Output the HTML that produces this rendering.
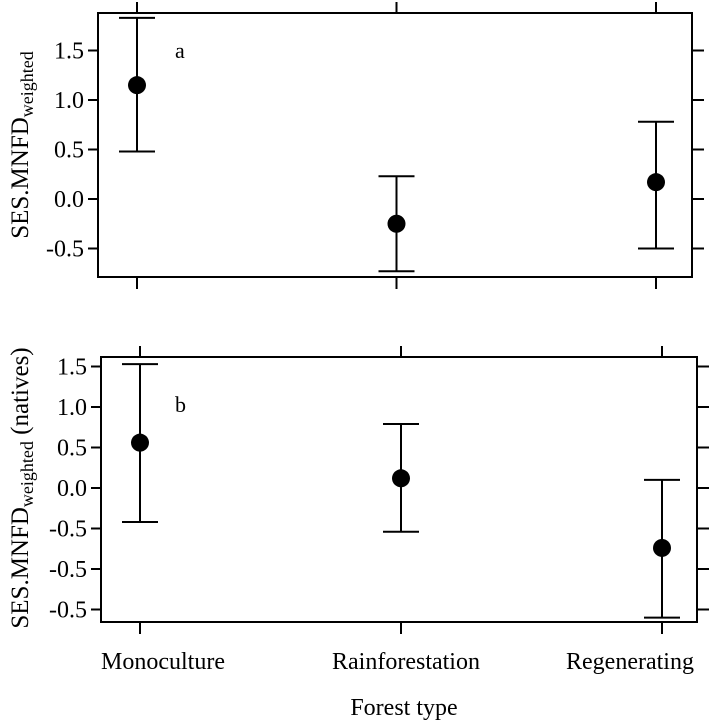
<!DOCTYPE html>
<html><head><meta charset="utf-8"><style>
html,body{margin:0;padding:0;background:#fff;}
svg{display:block;font-family:"Liberation Serif",serif;}
</style></head><body>
<svg width="709" height="722" viewBox="0 0 709 722" xmlns="http://www.w3.org/2000/svg" id="chart"></svg>
<script>
const categories = ["Monoculture","Rainforestation","Regenerating"];
const meanA = [1.15,-0.25,0.17];
const upperA = [1.83,0.23,0.78];
const lowerA = [0.48,-0.73,-0.5];
const meanB = [0.56,0.12,-0.74];
const upperB = [1.53,0.79,0.10];
const lowerB = [-0.42,-0.54,-1.6];
const tickValsA = [1.5,1.0,0.5,0.0,-0.5];
const tickLabelsA = ["1.5","1.0","0.5","0.0","-0.5"];
const tickValsB = [1.5,1.0,0.5,0.0,-0.5,-1.0,-1.5];
const tickLabelsB = ["1.5","1.0","0.5","0.0","-0.5","-0.5","-0.5"];

const svg=document.getElementById('chart');
const NS='http://www.w3.org/2000/svg';
function mk(tag,attrs,parent){const e=document.createElementNS(NS,tag);for(const k in attrs)e.setAttribute(k,attrs[k]);(parent||svg).appendChild(e);return e;}
const labelX=[163,406,630];

function panel(cfg){
  const g=mk('g',{});
  
  
  const y=v=>cfg.y0-v*cfg.ppu;
  const x=i=>cfg.left+39+i*cfg.step;
  const box=mk('rect',{x:cfg.left,y:cfg.top,width:cfg.right-cfg.left,height:cfg.bottom-cfg.top,fill:'none',stroke:'#000','stroke-width':2},g);
  
  
  cfg.ticks.forEach((v,i)=>{
    const yy=y(v);
    const t=mk('line',{x1:cfg.left-10,x2:cfg.left,y1:yy,y2:yy,stroke:'#000','stroke-width':2},g);
    
    
    const t2=mk('line',{x1:cfg.right,x2:cfg.right+12,y1:yy,y2:yy,stroke:'#000','stroke-width':2},g);
    
    
    const lb=mk('text',{x:cfg.left-14,y:yy+8,'text-anchor':'end',style:'font-size:24px'},g);
    lb.textContent=cfg.labels[i];
    
    
  });
  categories.forEach((c,i)=>{
    const xx=x(i);
    const a=mk('line',{x1:xx,x2:xx,y1:cfg.top-11,y2:cfg.top,stroke:'#000','stroke-width':2},g);
    
    
    const b=mk('line',{x1:xx,x2:xx,y1:cfg.bottom,y2:cfg.bottom+12,stroke:'#000','stroke-width':2},g);
    
    
    const eg=mk('g',{},g);
    
    
    mk('line',{x1:xx,x2:xx,y1:y(cfg.up[i]),y2:y(cfg.lo[i]),stroke:'#000','stroke-width':2},eg);
    mk('line',{x1:xx-18,x2:xx+18,y1:y(cfg.up[i]),y2:y(cfg.up[i]),stroke:'#000','stroke-width':2},eg);
    mk('line',{x1:xx-18,x2:xx+18,y1:y(cfg.lo[i]),y2:y(cfg.lo[i]),stroke:'#000','stroke-width':2},eg);
    const p=mk('circle',{cx:xx,cy:y(cfg.mean[i]),r:9,fill:'#000'},g);
    
    
  });
  const l=mk('text',{x:175,y:cfg.letterY,style:'font-size:22px'},g);
  l.textContent=cfg.letter;
  
  
  return y;
}
panel({name:'panel-a',left:98,right:692,top:13,bottom:277,y0:199,ppu:99,step:259.5,ticks:tickValsA,labels:tickLabelsA,mean:meanA,up:upperA,lo:lowerA,letter:'a',letterY:58});
panel({name:'panel-b',left:101,right:697,top:357,bottom:622,y0:488,ppu:81,step:261,ticks:tickValsB,labels:tickLabelsB,mean:meanB,up:upperB,lo:lowerB,letter:'b',letterY:412});

const ya=mk('text',{transform:'translate(28,145) rotate(-90)','text-anchor':'middle',style:'font-size:25px'});
ya.innerHTML='SES.MNFD<tspan style="font-size:18px" dy="5">weighted</tspan>';


const yb=mk('text',{transform:'translate(28,488) rotate(-90)','text-anchor':'middle',style:'font-size:25px'});
yb.innerHTML='SES.MNFD<tspan style="font-size:18px" dy="5">weighted</tspan><tspan dy="-5"> (natives)</tspan>';


categories.forEach((c,i)=>{
  const t=mk('text',{x:labelX[i],y:669,'text-anchor':'middle',style:'font-size:24px'});
  t.textContent=c;
  
  
});
const xt=mk('text',{x:404,y:715,'text-anchor':'middle',style:'font-size:24px'});
xt.textContent='Forest type';


</script>
</body></html>
